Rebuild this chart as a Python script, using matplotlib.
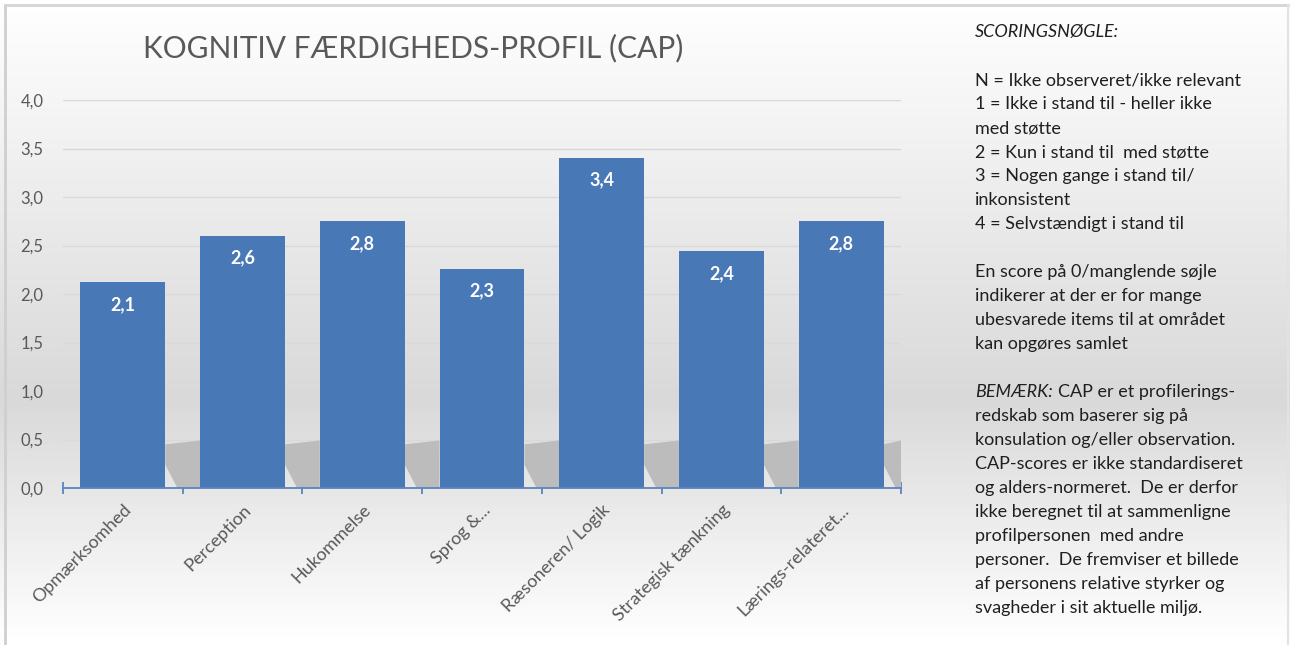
import matplotlib.pyplot as plt
import matplotlib.colors as mcolors
import numpy as np

categories = ['Opmærksomhed', 'Perception', 'Hukommelse', 'Sprog &...',
              'Ræsoneren/ Logik', 'Strategisk tænkning', 'Lærings-relateret...']
scores = [2.12, 2.60, 2.75, 2.26, 3.40, 2.44, 2.75]
yticks = [0.0, 0.5, 1.0, 1.5, 2.0, 2.5, 3.0, 3.5, 4.0]

key_lines = [
    ('SCORINGSNØGLE:', 'italic'),
    ('', None),
    ('N = Ikke observeret/ikke relevant', None),
    ('1 = Ikke i stand til - heller ikke', None),
    ('med støtte', None),
    ('2 = Kun i stand til  med støtte', None),
    ('3 = Nogen gange i stand til/', None),
    ('inkonsistent', None),
    ('4 = Selvstændigt i stand til', None),
    ('', None),
    ('En score på 0/manglende søjle', None),
    ('indikerer at der er for mange', None),
    ('ubesvarede items til at området', None),
    ('kan opgøres samlet', None),
    ('', None),
    ('CAP er et profilerings-', 'BEMÆRK:'),
    ('redskab som baserer sig på', None),
    ('konsulation og/eller observation.', None),
    ('CAP-scores er ikke standardiseret', None),
    ('og alders-normeret.  De er derfor', None),
    ('ikke beregnet til at sammenligne', None),
    ('profilpersonen  med andre', None),
    ('personer.  De fremviser et billede', None),
    ('af personens relative styrker og', None),
    ('svagheder i sit aktuelle miljø.', None),
]

plt.rcParams['font.family'] = ['Lato', 'DejaVu Sans']
W, H = 1290, 645
fig = plt.figure(figsize=(12.9, 6.45), dpi=100)

# background gradient
bg = fig.add_axes([0, 0, 1, 1], zorder=-10)
cmap = mcolors.LinearSegmentedColormap.from_list(
    'bg', [(0, '#ffffff'), (0.62, '#d9d9d9'), (1.0, '#ffffff')])
grad = np.linspace(0, 1, 300).reshape(-1, 1)
bg.imshow(grad, aspect='auto', cmap=cmap, extent=[0, 1, 0, 1], origin='upper')
bg.plot([5 / W, 5 / W], [0, 1 - 5 / H], color='#cfcfcf', lw=2)
bg.plot([5 / W, 1288 / W], [1 - 5 / H, 1 - 5 / H], color='#d5d5d5', lw=2)
bg.plot([1288 / W, 1288 / W], [0, 1 - 5 / H], color='#e2e2e2', lw=1.5)
bg.set_xlim(0, 1)
bg.set_ylim(0, 1)
bg.axis('off')

ax = fig.add_axes([63 / W, 1 - 488 / H, (901 - 63) / W, (488 - 100) / H])
ax.set_facecolor('none')
x = np.arange(len(categories))
width = 0.71

# shadows behind the bars
for i in range(len(categories)):
    xr = x[i] + width / 2
    xl = x[i] + 1 - width / 2 if i < len(categories) - 1 else len(categories) - 0.5
    ax.fill([xr, xr, xl, xl, xr + 0.1], [0.24, 0.45, 0.49, 0.0, 0.0],
            color='#bcbcbc', lw=0, zorder=1)

bars = ax.bar(x, scores, width=width, color='#4878b6', zorder=3)
for b, v in zip(bars, scores):
    ax.annotate(f'{v:.1f}'.replace('.', ','), (b.get_x() + b.get_width() / 2, v),
                xytext=(0, -22), textcoords='offset pixels', ha='center', va='center',
                color='white', fontsize=13, fontweight='bold', zorder=4)

ax.set_xlim(-0.5, len(categories) - 0.5)
ax.set_ylim(0, 4)
ax.set_yticks(yticks)
ax.set_yticklabels([f'{t:.1f}'.replace('.', ',') for t in yticks])
ax.yaxis.grid(True, color='#d9d9d9', lw=1)
ax.set_axisbelow(True)
for s in ['top', 'right', 'left']:
    ax.spines[s].set_visible(False)
ax.spines['bottom'].set_color('#5b84c0')
ax.spines['bottom'].set_linewidth(1.3)
ax.spines['bottom'].set_zorder(5)
ax.tick_params(axis='y', length=0, pad=14, labelsize=12, labelcolor='#595959')

ax.set_xticks(np.arange(-0.5, len(categories), 1.0))
ax.set_xticklabels([])
ax.tick_params(axis='x', which='major', direction='inout', length=9, width=1.3,
               color='#5b84c0')
ax.set_xticks(x, minor=True)
ax.set_xticklabels(categories, minor=True, rotation=45, ha='right',
                   rotation_mode='anchor', fontsize=13, color='#595959')
ax.tick_params(axis='x', which='minor', length=0, pad=10)

fig.text(413 / W, 1 - 48 / H, 'KOGNITIV FÆRDIGHEDS-PROFIL (CAP)', ha='center',
         va='center', fontsize=21.5, color='#595959')

x0 = 975 / W
fig.canvas.draw()
r = fig.canvas.get_renderer()
fs = 13
for i, (txt, style) in enumerate(key_lines):
    y = 1 - (32 + 24 * i) / H
    if style == 'italic':
        fig.text(x0, y, txt, fontsize=fs, style='italic', color='#1f1f1f', va='center')
    elif style:
        t = fig.text(x0, y, style, fontsize=fs, style='italic', color='#1f1f1f', va='center')
        ext = t.get_window_extent(renderer=r)
        fig.text((ext.x1 + 5) / W, y, txt, fontsize=fs, color='#1f1f1f', va='center')
    elif txt:
        fig.text(x0, y, txt, fontsize=fs, color='#1f1f1f', va='center')

fig.savefig('out.png', dpi=100)
